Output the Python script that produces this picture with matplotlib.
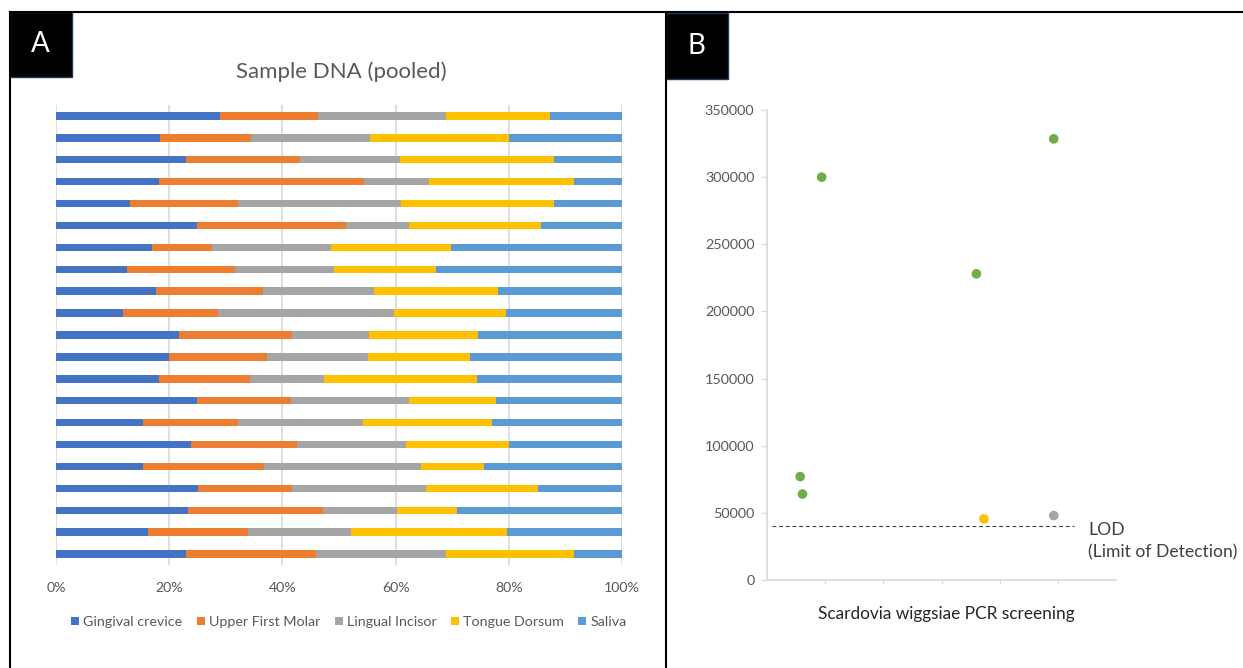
import matplotlib
matplotlib.use("Agg")
import matplotlib.pyplot as plt
import numpy as np
from matplotlib.patches import Patch, Rectangle
from matplotlib.lines import Line2D

plt.rcParams['font.family'] = ['Lato', 'DejaVu Sans']

# ---------------- Panel A data (top bar first) ----------------
series_names = ["Gingival crevice", "Upper First Molar", "Lingual Incisor", "Tongue Dorsum", "Saliva"]
gingival = [28.9, 18.4, 23.0, 18.2, 13.1, 24.9, 16.9, 12.6, 17.6, 11.8, 21.7,
            20.0, 18.2, 24.9, 15.4, 23.9, 15.4, 25.1, 23.3, 16.3, 22.9]
upper_molar = [17.4, 16.0, 20.1, 36.3, 19.1, 26.3, 10.6, 19.0, 19.0, 16.8, 20.0,
               17.2, 16.0, 16.6, 16.7, 18.6, 21.3, 16.6, 23.9, 17.6, 23.0]
lingual_incisor = [22.6, 21.1, 17.6, 11.4, 28.8, 11.1, 21.0, 17.5, 19.6, 31.2, 13.6,
                   17.9, 13.2, 20.8, 22.2, 19.4, 27.8, 23.6, 13.0, 18.3, 23.0]
tongue_dorsum = [18.4, 24.6, 27.3, 25.7, 27.0, 23.4, 21.2, 18.1, 21.9, 19.7, 19.3,
                 18.1, 27.0, 15.5, 22.7, 18.1, 11.2, 19.8, 10.6, 27.4, 22.7]
saliva = [12.7, 19.9, 12.0, 8.4, 12.0, 14.3, 30.3, 32.8, 21.9, 20.5, 25.4,
          26.8, 25.6, 22.2, 23.0, 20.0, 24.3, 14.9, 29.2, 20.4, 8.4]
pct_ticks = [0, 20, 40, 60, 80, 100]
pct_labels = ["0%", "20%", "40%", "60%", "80%", "100%"]
bar_colors = ["#4472C4", "#ED7D31", "#A5A5A5", "#FFC000", "#5B9BD5"]

# ---------------- Panel B data ----------------
pcr_x = [0.57, 0.61, 0.94, 3.60, 3.73, 4.93, 4.93]
pcr_y = [77000, 64000, 300000, 228000, 45500, 48000, 328500]
pcr_colors = ["#70AD47", "#70AD47", "#70AD47", "#70AD47", "#FFC000", "#A5A5A5", "#70AD47"]
lod_value = 40000
lod_x = [0.09, 5.27]
b_yticks = [0, 50000, 100000, 150000, 200000, 250000, 300000, 350000]

W, H = 1243, 668
fig = plt.figure(figsize=(W / 100, H / 100), dpi=100)

def fx(px):
    return px / W

def fy(py):
    return 1 - py / H

# ---------------- Panel A ----------------
axA = fig.add_axes([fx(56), fy(565), fx(622) - fx(56), (565 - 105) / H])
data = np.array([gingival, upper_molar, lingual_incisor, tongue_dorsum, saliva])
data = data / data.sum(axis=0) * 100
n = data.shape[1]
ypos = np.arange(n)[::-1]
left = np.zeros(n)
for vals, col in zip(data, bar_colors):
    axA.barh(ypos, vals, left=left, height=0.34, color=col, linewidth=0, zorder=3)
    left += vals
axA.set_xlim(0, 100)
axA.set_ylim(-0.5, n - 0.5)
axA.set_xticks(pct_ticks)
axA.set_xticklabels(pct_labels, color="#595959", fontsize=10.2)
axA.tick_params(axis='x', length=0, pad=12)
axA.set_yticks([])
axA.grid(axis='x', color="#D9D9D9", linewidth=1.2, zorder=0)
for s in axA.spines.values():
    s.set_visible(False)
fig.text(fx(341), fy(72), "Sample DNA (pooled)", ha='center', va='center',
         fontsize=16, color="#595959")
handles = [Patch(facecolor=c, edgecolor='none', label=l) for c, l in zip(bar_colors, series_names)]
leg = fig.legend(handles=handles, loc='center', bbox_to_anchor=(fx(349), fy(622)), ncol=5,
                 frameon=False, fontsize=10.3, handlelength=0.55, handleheight=0.55,
                 handletextpad=0.3, columnspacing=1.0, labelcolor="#595959")

# ---------------- Panel B ----------------
axB = fig.add_axes([fx(767), fy(580), fx(1116) - fx(767), (580 - 110) / H])
axB.scatter(pcr_x, pcr_y, c=pcr_colors, s=48, linewidths=0, zorder=3)
axB.plot(lod_x, [lod_value, lod_value], linestyle=(0, (3.5, 2.5)), color="#404040", linewidth=0.8)
axB.set_xlim(0, 6)
axB.set_ylim(0, 350000)
axB.set_yticks(b_yticks)
axB.set_yticklabels([str(v) for v in b_yticks], color="#595959", fontsize=10.4)
axB.set_xticks([1, 2, 3, 4, 5])
axB.set_xticklabels([])
axB.tick_params(axis='y', length=4, color="#D9D9D9", pad=5)
axB.tick_params(axis='x', length=3, color="#D9D9D9")
for k in ['top', 'right']:
    axB.spines[k].set_visible(False)
for k in ['left', 'bottom']:
    axB.spines[k].set_color("#D9D9D9")
    axB.spines[k].set_linewidth(1.2)
fig.text(fx(946), fy(614), "Scardovia wiggsiae PCR screening", ha='center', va='center',
         fontsize=12.4, color="#262626")
fig.text(fx(1088), fy(530), "LOD", ha='left', va='center', fontsize=12.6, color="#404040")
fig.text(fx(1088), fy(552), "(Limit of Detection)", ha='left', va='center', fontsize=12.6, color="#404040")

# ---------------- Frame & labels ----------------
fig.add_artist(Line2D([fx(10), 1], [fy(12), fy(12)], color='black', linewidth=1.5))
fig.add_artist(Line2D([fx(10), fx(10)], [fy(12), 0], color='black', linewidth=1.5))
fig.add_artist(Line2D([fx(666), fx(666)], [fy(12), 0], color='black', linewidth=1.5))
fig.add_artist(Rectangle((fx(10), fy(77)), fx(62), (77 - 12) / H, facecolor='black',
                         edgecolor='#1F3864', linewidth=1.0, transform=fig.transFigure))
fig.add_artist(Rectangle((fx(666), fy(79)), fx(62), (79 - 13) / H, facecolor='black',
                         edgecolor='#1F3864', linewidth=1.0, transform=fig.transFigure))
fig.text(fx(40), fy(44), "A", ha='center', va='center', fontsize=20, color='white')
fig.text(fx(696), fy(46), "B", ha='center', va='center', fontsize=20, color='white')

fig.savefig("out.png", dpi=100)
